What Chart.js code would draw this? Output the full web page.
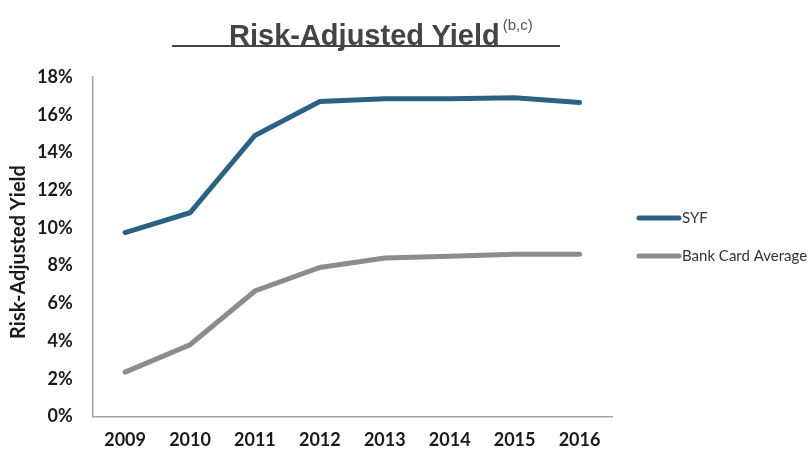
<!DOCTYPE html>
<html>
<head>
<meta charset="utf-8">
<script src="https://cdn.jsdelivr.net/npm/chart.js@4/dist/chart.umd.min.js"></script>
<style>
  html, body { margin: 0; padding: 0; background: #fff; }
  #wrap { position: relative; width: 811px; height: 454px; }
  #title {
    position: absolute; left: 229px; top: 8px;
    font: bold 29px "Liberation Sans", Arial, sans-serif; color: #444;
    white-space: nowrap; line-height: 34px;
  }
  #title sup { font-size: 15px; font-weight: normal; color: #555; vertical-align: 15px; margin-left: 3px; }
  #rule { position: absolute; left: 172px; top: 45px; width: 388px; height: 2px; background: #444; }
  canvas { position: absolute; left: 0; top: 0; }
</style>
</head>
<body>
<div id="wrap">
  <canvas id="chart" width="811" height="454"></canvas>
  <div id="title">Risk-Adjusted Yield<sup>(b,c)</sup></div>
  <div id="rule"></div>
</div>
<script>
// values (percent)
const years = ['2009', '2010', '2011', '2012', '2013', '2014', '2015', '2016'];
const syf = [9.75, 10.8, 14.9, 16.7, 16.85, 16.85, 16.9, 16.65];
const bankCardAvg = [2.35, 3.8, 6.65, 7.9, 8.4, 8.5, 8.6, 8.6];
const yTicks = [0, 2, 4, 6, 8, 10, 12, 14, 16, 18];

const seriesNames = ['SYF', 'Bank Card Average'];
const seriesColors = ['#2b6283', '#8b8d88'];
const yAxisTitle = 'Risk-Adjusted Yield';

// legend on the right and the rotated y title, drawn by hand so they sit where the original ones do
const sideBits = {
  id: 'sideBits',
  afterDraw(chart) {
    const ctx = chart.ctx;
    ctx.save();
    chart.data.datasets.forEach((ds, i) => {
      const y = 218 + i * 38;
      ctx.strokeStyle = ds.borderColor;
      ctx.lineWidth = 5;
      ctx.lineCap = 'round';
      ctx.beginPath();
      ctx.moveTo(639, y);
      ctx.lineTo(679, y);
      ctx.stroke();
      ctx.fillStyle = '#333';
      ctx.font = '15px Lato';
      ctx.textBaseline = 'middle';
      ctx.textAlign = 'left';
      ctx.fillText(ds.label, 682, y);
    });
    ctx.translate(19, 252);
    ctx.rotate(-Math.PI / 2);
    ctx.fillStyle = '#1a1a1a';
    ctx.font = 'bold 20px Lato';
    ctx.textAlign = 'center';
    ctx.textBaseline = 'middle';
    ctx.fillText(yAxisTitle, 0, 0);
    ctx.restore();
  }
};

new Chart(document.getElementById('chart').getContext('2d'), {
  type: 'line',
  data: {
    labels: years,
    datasets: [
      { label: seriesNames[0], data: syf, borderColor: seriesColors[0], borderWidth: 5, pointRadius: 0, tension: 0, borderCapStyle: 'round' },
      { label: seriesNames[1], data: bankCardAvg, borderColor: seriesColors[1], borderWidth: 5, pointRadius: 0, tension: 0, borderCapStyle: 'round' }
    ]
  },
  options: {
    responsive: false,
    animation: false,
    layout: { padding: { left: 17, right: 199, top: 77, bottom: -10 } },
    plugins: { legend: { display: false }, tooltip: { enabled: false } },
    scales: {
      x: {
        offset: true,
        grid: { display: false, drawTicks: false },
        border: { color: '#a3a3a3', width: 1.5 },
        ticks: { color: '#1a1a1a', font: { family: 'Lato', size: 18, weight: 'bold' }, padding: 13 }
      },
      y: {
        min: 0, max: 18,
        afterBuildTicks: axis => { axis.ticks = yTicks.map(v => ({ value: v })); },
        grid: { display: false, drawTicks: false },
        border: { color: '#a3a3a3', width: 1.5 },
        ticks: { color: '#1a1a1a', font: { family: 'Lato', size: 18, weight: 'bold' }, padding: 20, callback: v => v + '%' }
      }
    }
  },
  plugins: [sideBits]
});
</script>
</body>
</html>
